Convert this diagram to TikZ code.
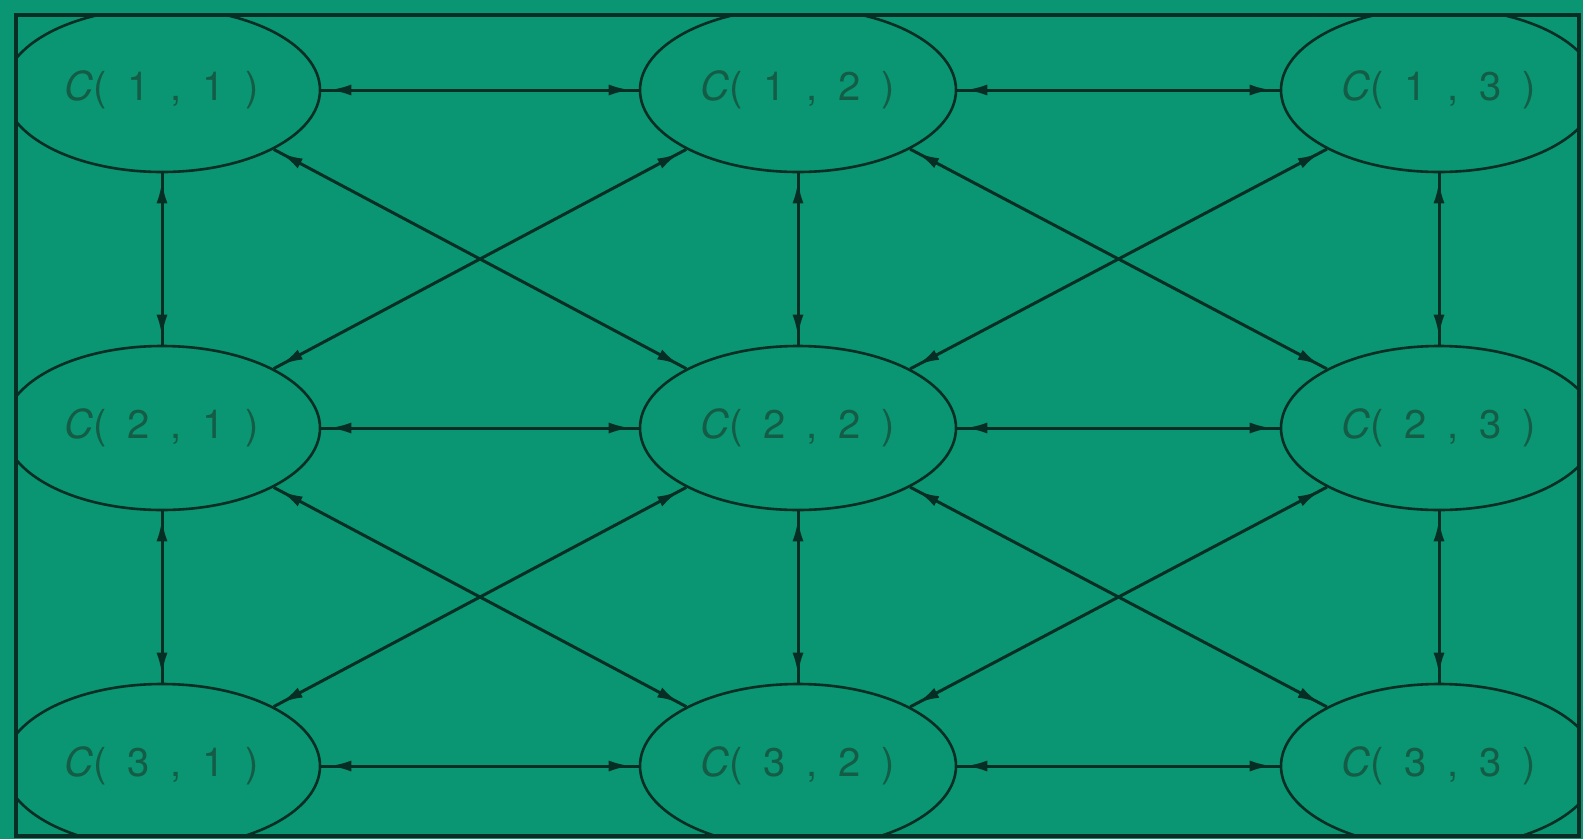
\documentclass[tikz,border=0pt]{standalone}
\usepackage{fontspec}
\setmainfont{TeX Gyre Heros}
\newfontfamily\lblfont[LetterSpace=52]{TeX Gyre Heros}
\usetikzlibrary{shapes.geometric,arrows.meta,decorations.markings}
\definecolor{bg}{RGB}{10,150,114}
\definecolor{ink}{RGB}{6,46,36}
\definecolor{txt}{RGB}{20,92,70}
\tikzset{
  cell/.style={ellipse,draw=ink,line width=2.6pt,minimum width=316pt,minimum height=164pt,inner sep=0pt,
    text=txt,font=\lblfont\fontsize{40}{40}\selectfont},
  link/.style={draw=ink,line width=3pt,postaction={decorate},
    decoration={markings,
      mark=at position 8pt with {\arrowreversed{Latex[length=22pt,width=11pt]}},
      mark=at position -8pt with {\arrow{Latex[length=22pt,width=11pt]}}}}
}
\newcommand{\lbl}[2]{{\itshape C}(#1,#2)}
\begin{document}
\begin{tikzpicture}[x=1pt,y=-1pt]
\fill[bg] (0,0) rectangle (1583,839);
\useasboundingbox (0,0) rectangle (1583,839);
\begin{scope}
\clip (16,15) rectangle (1579,836);
\node[cell] (c11) at (162,90) {\lbl{1}{1}};
\node[cell] (c12) at (798,90) {\lbl{1}{2}};
\node[cell] (c13) at (1439,90) {\lbl{1}{3}};
\node[cell] (c21) at (162,428) {\lbl{2}{1}};
\node[cell] (c22) at (798,428) {\lbl{2}{2}};
\node[cell] (c23) at (1439,428) {\lbl{2}{3}};
\node[cell] (c31) at (162,766) {\lbl{3}{1}};
\node[cell] (c32) at (798,766) {\lbl{3}{2}};
\node[cell] (c33) at (1439,766) {\lbl{3}{3}};
% horizontal
\path[link] (c11) -- (c12);
\path[link] (c12) -- (c13);
\path[link] (c21) -- (c22);
\path[link] (c22) -- (c23);
\path[link] (c31) -- (c32);
\path[link] (c32) -- (c33);
% vertical
\path[link] (c11) -- (c21);
\path[link] (c21) -- (c31);
\path[link] (c12) -- (c22);
\path[link] (c22) -- (c32);
\path[link] (c13) -- (c23);
\path[link] (c23) -- (c33);
% diagonals
\path[link] (c11) -- (c22);
\path[link] (c21) -- (c12);
\path[link] (c12) -- (c23);
\path[link] (c22) -- (c13);
\path[link] (c21) -- (c32);
\path[link] (c31) -- (c22);
\path[link] (c22) -- (c33);
\path[link] (c32) -- (c23);
\end{scope}
\draw[ink,line width=4pt] (16,15) rectangle (1579,836);
\end{tikzpicture}
\end{document}
